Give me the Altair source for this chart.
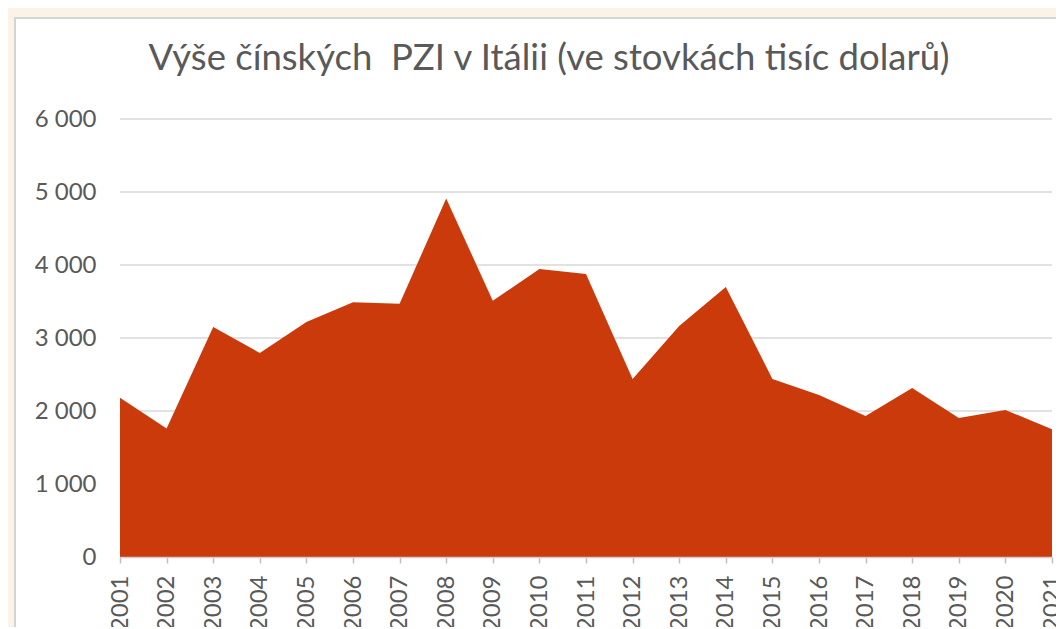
import altair as alt
import pandas as pd

years = list(range(2001, 2022))
values = [2180, 1760, 3150, 2795, 3220, 3490, 3470, 4910, 3510, 3945, 3877,
          2440, 3165, 3700, 2440, 2220, 1930, 2315, 1905, 2015, 1750]
y_ticks = [0, 1000, 2000, 3000, 4000, 5000, 6000]
title_text = "Výše čínských\u00a0 PZI v Itálii (ve stovkách tisíc dolarů)"

df = pd.DataFrame({"year": years, "value": values})
grid_df = pd.DataFrame({"value": y_ticks})

W, H = 932, 438
FONT = "Lato"
GRAY = "#595959"

xscale = alt.Scale(domain=[2001, 2021], nice=False, zero=False)
yscale = alt.Scale(domain=[0, 6000], nice=False)
yaxis = alt.Axis(values=y_ticks, title=None, domain=False, ticks=False,
                 grid=False,
                 labelExpr="replace(format(datum.value, ','), ',', ' ')",
                 labelPadding=24,
                 labelFont=FONT, labelFontSize=24, labelColor=GRAY,
                 zindex=1)

panel = alt.Chart(pd.DataFrame({"a": [0]})).mark_rect(
    color="white", stroke="#d4d4d4", strokeWidth=2
).encode(
    x=alt.value(-105), x2=alt.value(W + 40),
    y=alt.value(-101), y2=alt.value(H + 200),
)

grid = alt.Chart(grid_df).mark_rule(color="#d9d9d9", strokeWidth=1.5).encode(
    y=alt.Y("value:Q", scale=yscale, axis=yaxis),
    x=alt.value(0), x2=alt.value(W),
)

area = alt.Chart(df).mark_area(color="#CB3A0A", interpolate="linear").encode(
    x=alt.X("year:Q", scale=xscale,
            axis=alt.Axis(values=years, format="d", title=None, labelAngle=-90,
                          labelAlign="right", labelBaseline="middle",
                          labelPadding=12, tickSize=6, tickColor="#bfbfbf",
                          tickWidth=1.5, domainColor="#d0d0d0", domainWidth=1.5,
                          grid=False, labelFont=FONT, labelFontSize=24,
                          labelColor=GRAY, zindex=1)),
    y=alt.Y("value:Q", scale=yscale, axis=yaxis),
)

title = alt.Chart(pd.DataFrame({"t": [title_text]})).mark_text(
    font=FONT, fontSize=36.5, color=GRAY, align="center", baseline="alphabetic"
).encode(
    text="t:N", x=alt.value(W / 2 - 37), y=alt.value(-49),
)

chart = alt.layer(panel, grid, area, title).properties(
    width=W, height=H,
    background="#FDF2E8",
    padding={"left": 112, "top": 111, "right": 4, "bottom": 70},
    autosize=alt.AutoSizeParams(type="none"),
).configure_view(stroke=None)

chart.save("out.html", embed_options={"renderer": "svg", "actions": False})
